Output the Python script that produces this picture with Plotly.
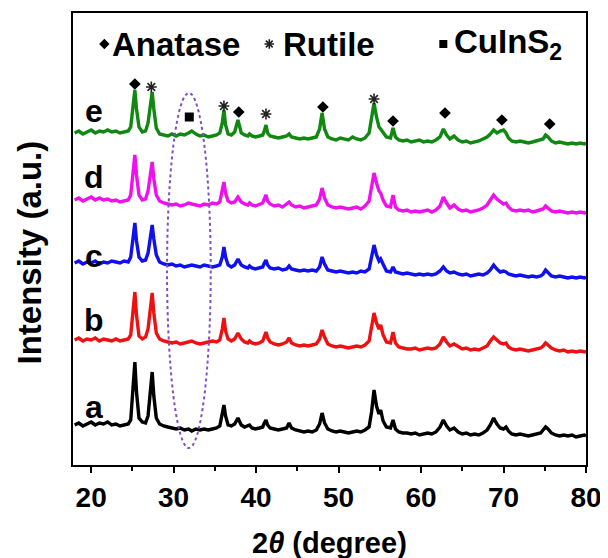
import plotly.graph_objects as go

# 2-theta grid (degree)
two_theta = [
    18.0, 18.5, 19.0, 19.5, 20.0, 20.5, 21.0, 21.5, 22.0, 22.5,
    23.0, 23.5, 24.0, 24.5, 24.8, 25.1, 25.3, 25.5, 25.8, 26.2,
    26.6, 26.9, 27.2, 27.4, 27.6, 27.9, 28.3, 28.8, 29.3, 29.8,
    30.3, 30.8, 31.3, 31.8, 32.2, 32.7, 33.2, 33.7, 34.2, 34.7,
    35.2, 35.6, 35.9, 36.1, 36.3, 36.6, 37.0, 37.4, 37.8, 38.2,
    38.6, 39.0, 39.2, 39.5, 39.9, 40.4, 40.8, 41.0, 41.2, 41.4,
    41.7, 42.2, 42.7, 43.2, 43.7, 44.0, 44.3, 44.8, 45.3, 45.8,
    46.3, 46.8, 47.3, 47.7, 48.0, 48.3, 48.7, 49.2, 49.7, 50.2,
    50.7, 51.2, 51.7, 52.2, 52.7, 53.2, 53.7, 54.0, 54.3, 54.6,
    54.9, 55.1, 55.4, 55.8, 56.3, 56.6, 56.9, 57.3, 57.8, 58.3,
    58.8, 59.3, 59.8, 60.3, 60.8, 61.3, 61.8, 62.3, 62.7, 63.1,
    63.5, 64.0, 64.5, 65.0, 65.5, 66.0, 66.5, 67.0, 67.5, 68.0,
    68.4, 68.8, 69.2, 69.6, 70.0, 70.3, 70.6, 71.0, 71.5, 72.0,
    72.5, 73.0, 73.5, 74.0, 74.5, 74.8, 75.1, 75.4, 75.8, 76.3,
    76.8, 77.3, 77.8, 78.3, 78.8, 79.3, 79.8, 80.0,
]

# Intensities (a.u.) of each pattern, relative to its stacking offset
intensity_a = [
    5, 7, 4, 6, 8, 5, 7, 6, 8, 5,
    6, 4, 5, 6, 10, 40, 68, 38, 12, 8,
    7, 14, 36, 58, 34, 12, 6, 4, 3, 2,
    1, 2, 0, 1, -1, 1, 0, 1, 0, 1,
    2, 4, 16, 25, 14, 5, 4, 6, 12, 5,
    3, 4, 5, 2, 1, 2, 3, 7, 10, 5,
    2, 1, 0, 1, 2, 7, 2, 0, -1, -2,
    -1, -2, 0, 6, 17, 7, 1, -1, -2, -1,
    -2, -3, -2, -1, -2, 0, 3, 18, 40, 24,
    16, 20, 9, 3, 2, 10, 1, -2, -3, -3,
    -4, -3, -5, -4, -3, -4, -2, 3, 10, 4,
    0, 2, -2, -4, -3, -5, -4, -5, -3, 0,
    5, 12, 6, 2, 1, 3, -1, -4, -5, -4,
    -5, -6, -5, -4, -3, 0, 3, 1, -3, -5,
    -6, -5, -6, -5, -7, -6, -5, -6,
]
intensity_b = [
    3, 5, 2, 4, 3, 5, 2, 4, 3, 2,
    4, 2, 3, 4, 8, 30, 51, 28, 7, 4,
    6, 14, 32, 50, 30, 10, 4, 2, 1, 0,
    1, -1, 0, 1, 2, 0, -1, 0, 1, 2,
    1, 3, 14, 25, 12, 4, 2, 4, 10, 4,
    1, 0, 2, 0, -1, 0, 2, 6, 11, 5,
    1, -1, -2, -1, 1, 5, 0, -2, -3, -2,
    -3, -2, -1, 4, 13, 6, -1, -3, -4, -3,
    -4, -5, -4, -3, -4, -2, 2, 15, 30, 20,
    14, 18, 8, 1, 0, 11, 0, -4, -5, -6,
    -6, -5, -7, -6, -5, -6, -5, -1, 6, 1,
    -3, -1, -4, -6, -5, -7, -6, -7, -5, -3,
    2, 6, 3, 0, -1, 0, -4, -6, -7, -6,
    -7, -8, -7, -6, -5, -3, 0, -2, -5, -7,
    -8, -7, -9, -8, -9, -8, -9, -9,
]
intensity_c = [
    2, 4, 1, 3, 2, 4, 1, 3, 2, 4,
    3, 2, 4, 3, 8, 26, 42, 24, 8, 4,
    5, 12, 28, 40, 26, 10, 3, 1, 0, 1,
    -1, 0, -2, -1, 0, -1, -2, 0, -1, -2,
    -1, 0, 8, 18, 8, 0, -2, 0, 6, 0,
    -2, -3, -1, -3, -4, -3, -2, 2, 5, 0,
    -3, -4, -3, -5, -4, -1, -4, -5, -6, -5,
    -6, -5, -6, -2, 8, 1, -5, -6, -7, -6,
    -7, -8, -7, -8, -6, -7, -4, 8, 20, 10,
    4, 6, 0, -6, -7, -2, -7, -8, -9, -8,
    -9, -10, -9, -10, -9, -10, -9, -6, -2, -6,
    -8, -7, -9, -10, -9, -11, -10, -9, -10, -8,
    -5, 0, -4, -7, -6, -7, -9, -10, -11, -10,
    -11, -12, -11, -12, -11, -9, -5, -8, -11, -12,
    -11, -12, -13, -12, -13, -12, -13, -12,
]
intensity_d = [
    5, 7, 4, 6, 8, 5, 7, 5, 6, 4,
    5, 3, 4, 5, 10, 32, 50, 30, 10, 5,
    6, 14, 30, 43, 26, 10, 4, 2, 1, 0,
    1, -1, 0, 2, 1, 0, -1, 1, 0, 2,
    1, 3, 14, 23, 12, 4, 2, 3, 8, 3,
    1, 0, 2, 0, -1, 1, 2, 6, 10, 4,
    1, -1, 0, -2, 1, 3, 0, -2, -1, -3,
    -2, -1, 0, 6, 17, 7, 0, -2, -3, -2,
    -3, -4, -3, -2, -4, -1, 4, 18, 32, 22,
    14, 12, 5, -1, -2, 10, -2, -5, -6, -5,
    -7, -6, -7, -6, -5, -7, -5, -1, 8, 2,
    -3, 0, -4, -6, -5, -7, -6, -5, -3, 0,
    5, 10, 6, 3, 1, 2, -2, -5, -6, -5,
    -6, -5, -7, -6, -5, -4, -1, -3, -6, -7,
    -6, -7, -8, -7, -8, -7, -8, -7,
]
intensity_e = [
    4, 6, 3, 5, 7, 4, 6, 5, 7, 5,
    6, 4, 5, 6, 10, 30, 47, 28, 10, 5,
    6, 14, 30, 45, 28, 9, 3, 2, 1, 3,
    1, 3, 2, 4, 6, 3, 1, 2, 0, 1,
    2, 4, 14, 27, 12, 3, 2, 5, 17, 4,
    2, 1, 3, 1, 0, 1, 2, 6, 12, 4,
    1, 0, -1, 0, 1, 3, 0, -1, -2, -1,
    -2, -1, 0, 8, 24, 8, 0, -2, -3, -1,
    -2, -3, 0, -2, -3, -1, 4, 18, 34, 20,
    10, 8, 4, 0, -1, 9, 0, -3, -4, -3,
    -5, -4, -3, -5, -4, -5, -3, 0, 8, 2,
    -2, 1, -3, -5, -4, -6, -5, -4, -2, 0,
    3, 7, 4, 6, 7, 4, -1, -4, -5, -4,
    -5, -6, -5, -4, -3, -2, 2, 0, -4, -6,
    -5, -6, -7, -6, -7, -6, -7, -6,
]

sample_labels = ["a", "b", "c", "d", "e"]
offsets = [35, 122, 200, 260, 328]
colors = ["#000000", "#ee1111", "#1010ee", "#ee11ee", "#118811"]
label_y = [58, 145, 209, 288, 354]

# Phase markers above pattern e
anatase_x = [25.3, 37.9, 48.1, 56.6, 62.9, 69.8, 75.6]
anatase_y = [381, 353, 358, 344, 352, 345, 341]
rutile_x = [27.3, 36.1, 41.2, 54.3]
rutile_y = [378, 359, 351, 366]
cuins2_x = [31.9]
cuins2_y = [348]

series = [intensity_a, intensity_b, intensity_c, intensity_d, intensity_e]

fig = go.Figure()
for lab, vals, off, col in zip(sample_labels, series, offsets, colors):
    fig.add_trace(go.Scatter(
        x=two_theta, y=[v + off for v in vals], mode="lines",
        line=dict(color=col, width=3.4), name=lab, showlegend=False,
    ))

star = dict(symbol="asterisk-open", size=9, color="#222222",
            line=dict(color="#222222", width=1.6))
fig.add_trace(go.Scatter(x=anatase_x, y=anatase_y, mode="markers",
                         marker=dict(symbol="diamond", size=9, color="black"),
                         showlegend=False))
fig.add_trace(go.Scatter(x=rutile_x, y=rutile_y, mode="markers",
                         marker=star, showlegend=False))
fig.add_trace(go.Scatter(x=cuins2_x, y=cuins2_y, mode="markers",
                         marker=dict(symbol="square", size=9, color="black"),
                         showlegend=False))

# Legend row symbols
legend_y = 421
fig.add_trace(go.Scatter(x=[21.6], y=[legend_y], mode="markers",
                         marker=dict(symbol="diamond", size=8, color="black"),
                         showlegend=False))
fig.add_trace(go.Scatter(x=[41.6], y=[legend_y], mode="markers",
                         marker=dict(star, size=8), showlegend=False))
fig.add_trace(go.Scatter(x=[62.7], y=[legend_y], mode="markers",
                         marker=dict(symbol="square", size=8, color="black"),
                         showlegend=False))

font_family = "Liberation Sans, Arial, sans-serif"
ann = []
for txt, x in [("<b>Anatase</b>", 22.3), ("<b>Rutile</b>", 43.0),
               ("<b>CuInS<sub>2</sub></b>", 63.8)]:
    ann.append(dict(x=x, y=legend_y, xref="x", yref="y", text=txt,
                    showarrow=False, xanchor="left", yanchor="middle",
                    font=dict(size=33, color="black", family=font_family)))
for lab, ly in zip(sample_labels, label_y):
    ann.append(dict(x=20.3, y=ly, xref="x", yref="y", text="<b>%s</b>" % lab,
                    showarrow=False, xanchor="center", yanchor="middle",
                    font=dict(size=32, color="black", family=font_family)))
ann.append(dict(x=0.5, y=-0.172, xref="paper", yref="paper",
                text="<b>2<i>θ</i> (degree)</b>", showarrow=False,
                xanchor="center", yanchor="middle",
                font=dict(size=29, color="black", family=font_family)))
ann.append(dict(x=-0.084, y=0.47, xref="paper", yref="paper",
                text="<b>Intensity (a.u.)</b>", showarrow=False, textangle=-90,
                xanchor="center", yanchor="middle",
                font=dict(size=33, color="black", family=font_family)))

# The page body has an 8 px margin, so the figure is 600x550 inside it.
fig.update_layout(
    template="none",
    width=600, height=550,
    margin=dict(l=65, r=22, t=5, b=93, autoexpand=False),
    paper_bgcolor="white", plot_bgcolor="white",
    annotations=ann,
    shapes=[dict(type="circle", xref="x", yref="y", x0=29.2, x1=34.5,
                 y0=17, y1=372,
                 line=dict(color="#8050c0", width=2, dash="dot"))],
)
fig.update_xaxes(
    automargin=False,
    range=[17.8, 80], tick0=20, dtick=10, ticks="outside", ticklen=6,
    tickwidth=2, tickcolor="black",
    minor=dict(dtick=5, ticks="outside", ticklen=4, tickwidth=2,
               tickcolor="black"),
    showline=True, linecolor="black", linewidth=2, mirror=True,
    showgrid=False, zeroline=False,
    tickfont=dict(size=28, color="black", family=font_family, weight="bold"),
)
fig.update_yaxes(
    automargin=False,
    range=[0, 452], showticklabels=False, ticks="",
    showline=True, linecolor="black", linewidth=2, mirror=True,
    showgrid=False, zeroline=False,
)

fig.write_html("out.html")
